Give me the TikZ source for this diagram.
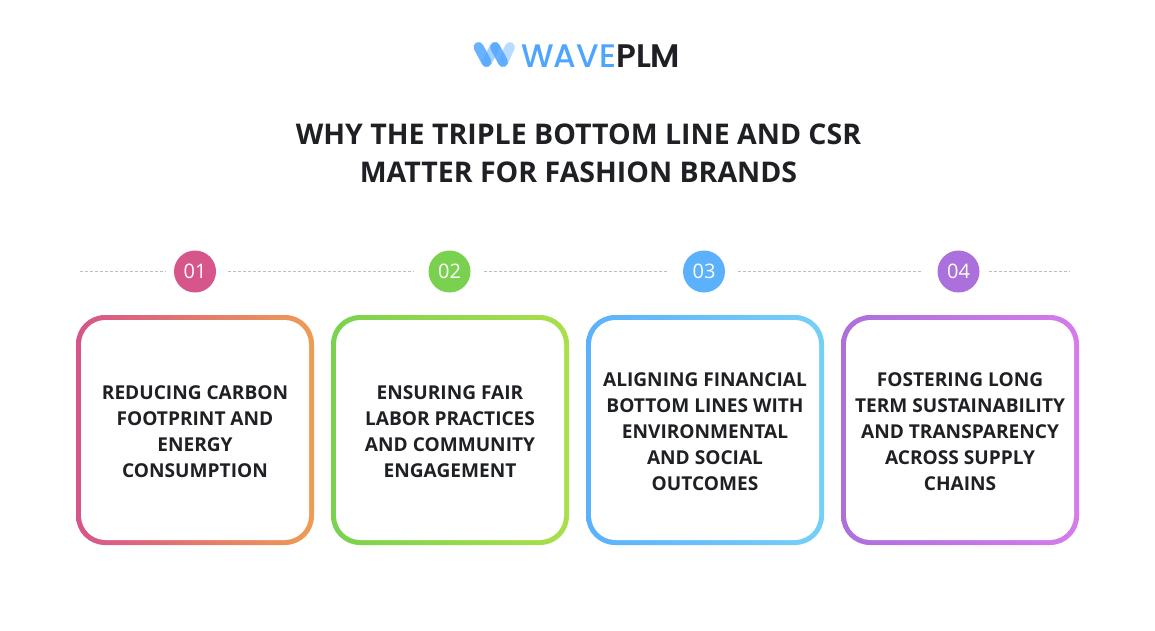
\documentclass[tikz,border=0pt]{standalone}
\usepackage{fontspec}
\setmainfont{Open Sans}
\newfontfamily\brandfont{Poppins Medium}
\newfontfamily\brandbold{Poppins SemiBold}
\usepackage{xcolor}
\usetikzlibrary{positioning}
\definecolor{inkdark}{HTML}{1F2024}
\definecolor{wavesky}{HTML}{4EA5FF}
\definecolor{dotgrey}{HTML}{BEBEBE}
\definecolor{roseA}{HTML}{D6558A}
\definecolor{roseB}{HTML}{EE9C53}
\definecolor{limeA}{HTML}{7AD150}
\definecolor{limeB}{HTML}{ABDF4B}
\definecolor{skyA}{HTML}{5CB1FC}
\definecolor{skyB}{HTML}{75D0F7}
\definecolor{plumA}{HTML}{AB70DC}
\definecolor{plumB}{HTML}{D67BEC}
\tikzset{
  numdot/.style={circle, minimum size=42pt, inner sep=0pt, text=white, font=\fontsize{20}{20}\selectfont},
  cardouter/.style={rectangle, rounded corners=29pt, minimum width=238pt, minimum height=230pt, inner sep=0pt},
  cardinner/.style={rectangle, rounded corners=24.5pt, fill=white, minimum width=228pt, minimum height=220pt, inner sep=0pt},
  cardtext/.style={inner sep=0pt, align=center, text=inkdark, yshift=-2pt, font=\fontsize{19.1}{26}\selectfont\bfseries},
  dotline/.style={dotgrey, line width=1.1pt, dash pattern=on 3pt off 2pt},
  wavestroke/.style={wavesky, line width=10pt, line cap=round},
}
\begin{document}
\begin{tikzpicture}[x=1pt, y=-1pt, node distance=254.5pt]
  \useasboundingbox (0,0) rectangle (1155,630);

  \node[numdot, fill=roseA] (n1) at (195,271.5) {01};
  \node[numdot, fill=limeA] (n2) [right of=n1] {02};
  \node[numdot, fill=skyA] (n3) [right of=n2] {03};
  \node[numdot, fill=plumA] (n4) [right of=n3] {04};

  \coordinate (lineL) at (80,271.5);
  \coordinate (lineR) at (1069,271.5);

  \draw[dotline, shorten >=8pt] (lineL) -- (n1);
  \draw[dotline, shorten <=12pt, shorten >=15pt] (n1) -- (n2);
  \draw[dotline, shorten <=13pt, shorten >=15pt] (n2) -- (n3);
  \draw[dotline, shorten <=13pt, shorten >=15pt] (n3) -- (n4);
  \draw[dotline, shorten <=9pt] (n4) -- (lineR);

  \node[cardouter, left color=roseA, right color=roseB] (o1) [below of=n1, node distance=158.5pt] {};
  \node[cardouter, left color=limeA, right color=limeB] (o2) [right of=o1, node distance=255pt] {};
  \node[cardouter, left color=skyA, right color=skyB] (o3) [right of=o2, node distance=255pt] {};
  \node[cardouter, left color=plumA, right color=plumB] (o4) [right of=o3, node distance=255pt] {};

  \node[cardinner] (i1) at (o1) {};
  \node[cardinner] (i2) at (o2) {};
  \node[cardinner] (i3) at (o3) {};
  \node[cardinner] (i4) at (o4) {};

  \node[cardtext] (c1) at (o1) {REDUCING CARBON\\FOOTPRINT AND\\ENERGY\\CONSUMPTION};
  \node[cardtext] (c2) at (o2) {ENSURING FAIR\\LABOR PRACTICES\\AND COMMUNITY\\ENGAGEMENT};
  \node[cardtext] (c3) at (o3) {ALIGNING FINANCIAL\\BOTTOM LINES WITH\\ENVIRONMENTAL\\AND SOCIAL\\OUTCOMES};
  \node[cardtext] (c4) at (o4) {FOSTERING LONG\\TERM SUSTAINABILITY\\AND TRANSPARENCY\\ACROSS SUPPLY\\CHAINS};

  \node[text=inkdark, align=center, font=\fontsize{28.5}{37.5}\selectfont\bfseries] (headline) at (578.5,153.5) {WHY THE TRIPLE BOTTOM LINE AND CSR\\MATTER FOR FASHION BRANDS};

  \node[anchor=west, inner sep=0pt, font=\fontsize{32.6}{32.6}\brandfont] (brand) at (521,56) {\textcolor{wavesky}{WAVE}\textcolor{inkdark}{\brandbold PLM}};

  \draw[wavestroke, opacity=0.85] (478.5,47) -- (486.5,62);
  \draw[wavestroke, opacity=0.5] (486.5,62) -- (495,47);
  \draw[wavestroke, opacity=0.85] (495,47) -- (503,62);
  \draw[wavestroke, opacity=0.4] (503,62) -- (510,47);
\end{tikzpicture}
\end{document}
